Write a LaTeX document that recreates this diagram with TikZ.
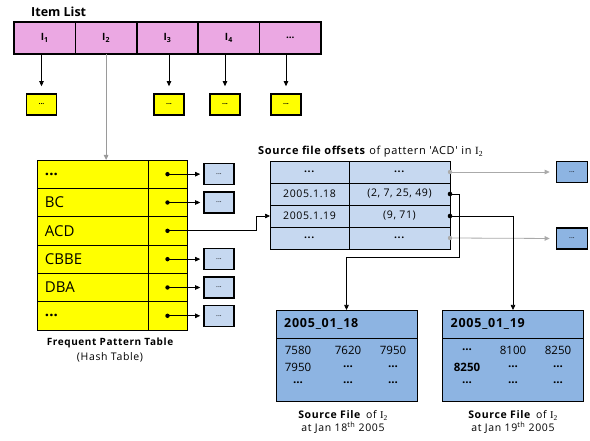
\documentclass[tikz,border=0pt]{standalone}
\usepackage{fontspec}
\setmainfont{Open Sans}
\newfontfamily\spaced[LetterSpace=6]{Open Sans}
\newfontfamily\subfont{Liberation Serif}
\usetikzlibrary{arrows.meta,calc}

\definecolor{itempink}{HTML}{EBA8E3}
\definecolor{fpyellow}{HTML}{FFFF00}
\definecolor{paleblue}{HTML}{C6D8F0}
\definecolor{fileblue}{HTML}{8DB4E2}
\definecolor{linkgrey}{HTML}{9A9A9A}
\definecolor{softgrey}{HTML}{AAAAAA}

\tikzset{
  tip/.style={-{Triangle[length=5pt,width=4.5pt]}},
  itemcell/.style={draw, line width=1.6pt, fill=itempink, minimum width=61.4pt,
    minimum height=32pt, inner sep=0pt, outer sep=0pt, font=\bfseries\fontsize{10}{12}\selectfont},
  ysmall/.style={draw, line width=1.6pt, fill=fpyellow, minimum width=30pt,
    minimum height=21pt, inner sep=0pt, font=\bfseries\fontsize{7}{8}\selectfont},
  bsmall/.style={draw, line width=1.6pt, fill=paleblue, minimum width=30pt,
    minimum height=21pt, inner sep=0pt, font=\fontsize{7}{8}\selectfont},
  rsmall/.style={draw, line width=1.6pt, fill=fileblue, minimum width=31pt,
    minimum height=21pt, inner sep=0pt, font=\fontsize{7}{8}\selectfont},
  fpleft/.style={draw, line width=0.7pt, fill=fpyellow, minimum width=111pt,
    minimum height=28.33pt, inner xsep=8pt, inner ysep=0pt, outer sep=0pt,
    text width=95pt, align=left, font=\fontsize{15}{18}\selectfont},
  fpright/.style={draw, line width=0.7pt, fill=fpyellow, minimum width=39pt,
    minimum height=28.33pt, inner sep=0pt, outer sep=0pt},
  stleft/.style={draw, line width=0.7pt, fill=paleblue, minimum width=79pt,
    minimum height=22pt, inner sep=0pt, outer sep=0pt, font=\spaced\fontsize{10.5}{12}\selectfont},
  stright/.style={draw, line width=0.7pt, fill=paleblue, minimum width=101pt,
    minimum height=22pt, inner sep=0pt, outer sep=0pt, font=\spaced\fontsize{10.5}{12}\selectfont},
  filehead/.style={draw, line width=0.7pt, fill=fileblue, minimum width=141pt,
    minimum height=28pt, inner sep=0pt, outer sep=0pt},
  filebody/.style={draw, line width=0.7pt, fill=fileblue, minimum width=141pt,
    minimum height=63pt, inner sep=0pt, outer sep=0pt},
  num/.style={inner sep=0pt, font=\fontsize{11.5}{13}\selectfont},
  caption/.style={align=center, inner sep=0pt, font=\spaced\fontsize{10.5}{12.5}\selectfont},
}

\begin{document}
\begin{tikzpicture}[x=1pt,y=-1pt]
\useasboundingbox[fill=white] (0,0) rectangle (590,441);

% ---- item list ----
\node[anchor=west, inner sep=0pt, font=\bfseries\fontsize{12.5}{15}\selectfont] (itemtitle) at (31,12) {Item List};
\node[itemcell] (i1) at (44.7,38)  {I\textsubscript{1}};
\node[itemcell] (i2) at (106.1,38) {I\textsubscript{2}};
\node[itemcell] (i3) at (167.5,38) {I\textsubscript{3}};
\node[itemcell] (i4) at (228.9,38) {I\textsubscript{4}};
\node[itemcell] (i5) at (290.3,38) {...};

\node[ysmall] (y1) at (41.5,104.5) {...};
\node[ysmall] (y3) at (169,104.5)  {...};
\node[ysmall] (y4) at (225,104.5)  {...};
\node[ysmall] (y5) at (286,104.5)  {...};

\foreach \c/\y in {i1/y1, i3/y3, i4/y4, i5/y5}
  \draw[line width=0.7pt, tip, shorten >=7pt] (\c.south -| \y.north) -- (\y.north);

% ---- frequent pattern table ----
\foreach \k/\lab in {1/{\textbf{...}}, 2/BC, 3/ACD, 4/CBBE, 5/DBA, 6/{\textbf{...}}} {
  \node[fpleft]  (fpL\k) at (92.5, {160+(\k-0.5)*28.33}) {\lab};
  \node[fpright] (fpR\k) at (167.5,{160+(\k-0.5)*28.33}) {};
}
\draw[linkgrey, line width=0.9pt, tip] (i2.south) -- (i2.south |- fpL1.north);

\foreach \k in {1,2,4,5,6} {
  \node[bsmall] (fb\k) at (219,{160+(\k-0.5)*28.33}) {...};
  \draw[line width=0.7pt, tip, shorten >=3pt] (fpR\k.center) -- (fb\k.west);
}
\foreach \k in {1,...,6}
  \fill (fpR\k.center) circle [radius=2.2pt];

\node[caption, font=\spaced\bfseries\fontsize{10}{12}\selectfont] (fpcap) at (110,343) {Frequent Pattern Table};
\node[caption, font=\spaced\fontsize{10.5}{12}\selectfont] (fpsub) at (110,357) {(Hash Table)};

% ---- source file offsets table ----
\node[anchor=west, inner sep=0pt, font=\spaced\fontsize{11}{13}\selectfont] (sttitle) at (258,152)
  {\textbf{Source file offsets} of pattern 'ACD' in {\subfont I\textsubscript{2}}};
\foreach \k/\a/\b in {1/{\textbf{...}}/{\textbf{...}}, 2/2005.1.18/{(2, 7, 25, 49)}, 3/2005.1.19/{(9, 71)}, 4/{\textbf{...}}/{\textbf{...}}} {
  \node[stleft]  (stL\k) at (309.5,{161+(\k-0.5)*22}) {\a};
  \node[stright] (stR\k) at (399.5,{161+(\k-0.5)*22}) {\b};
}
\draw[line width=0.7pt, tip] (fpR3.center) -- ++(89,0) |- (stL3.west);

\node[rsmall] (rb1) at (572,172) {...};
\node[rsmall] (rb4) at (572,238.5) {...};
\foreach \k/\r in {1/rb1, 4/rb4} {
  \draw[softgrey, line width=0.8pt, tip, shorten >=6pt] (stR\k.east) -- (\r.west);
  \fill[softgrey] (stR\k.east) circle [radius=2.2pt];
}

% ---- source files ----
\node[filehead] (f1h) at (346.5,324) {};
\node[filebody] (f1b) at (346.5,369.5) {};
\node[filehead] (f2h) at (513,324) {};
\node[filebody] (f2b) at (513,369.5) {};
\node[anchor=west, inner sep=0pt, font=\spaced\bfseries\fontsize{12.5}{14}\selectfont] (f1t) at ($(f1h.west)+(8,0)$) {2005\_01\_18};
\node[anchor=west, inner sep=0pt, font=\spaced\bfseries\fontsize{12.5}{14}\selectfont] (f2t) at ($(f2h.west)+(8,0)$) {2005\_01\_19};

\foreach \r/\y in {1/350, 2/367, 3/383}
  \foreach \c/\x in {1/298, 2/348, 3/393}
    \coordinate (p1-\r-\c) at (\x,\y);
\foreach \r/\y in {1/350, 2/367, 3/383}
  \foreach \c/\x in {1/467, 2/513, 3/558}
    \coordinate (p2-\r-\c) at (\x,\y);

\foreach \r/\c/\t in {1/1/7580, 1/2/7620, 1/3/7950, 2/1/7950, 2/2/{\textbf{...}}, 2/3/{\textbf{...}},
                      3/1/{\textbf{...}}, 3/2/{\textbf{...}}, 3/3/{\textbf{...}}}
  \node[num] (n1-\r-\c) at (p1-\r-\c) {\t};
\foreach \r/\c/\t in {1/1/{\textbf{...}}, 1/2/8100, 1/3/8250, 2/1/{\textbf{8250}}, 2/2/{\textbf{...}}, 2/3/{\textbf{...}},
                      3/1/{\textbf{...}}, 3/2/{\textbf{...}}, 3/3/{\textbf{...}}}
  \node[num] (n2-\r-\c) at (p2-\r-\c) {\t};

\draw[line width=0.7pt, tip] (stR2.east) -- ++(9,0) -- ++(0,63) -| (f1h.north);
\draw[line width=0.7pt, tip] (stR3.east) -| (f2h.north);
\fill (stR2.east) circle [radius=2.3pt];
\fill (stR3.east) circle [radius=2.3pt];

\node[caption] (f1cap) at (343,422) {\textbf{Source File}\, of {\subfont I\textsubscript{2}}\\at Jan 18\textsuperscript{th} 2005};
\node[caption] (f2cap) at (513,422) {\textbf{Source File}\, of {\subfont I\textsubscript{2}}\\at Jan 19\textsuperscript{th} 2005};
\end{tikzpicture}
\end{document}
